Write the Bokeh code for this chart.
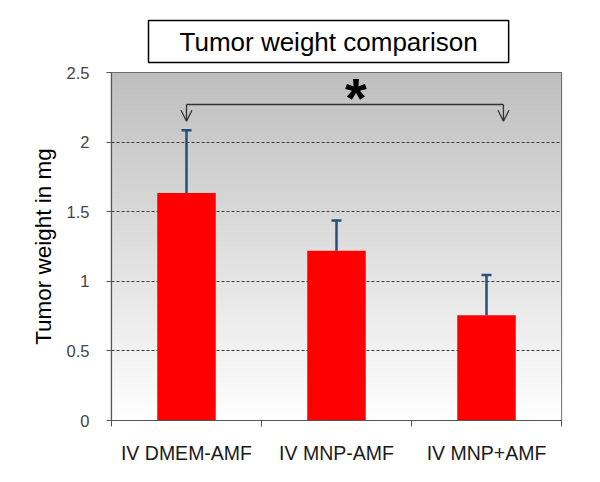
import numpy as np
from bokeh.plotting import figure
from bokeh.models import (FixedTicker, Whisker, TeeHead, Arrow, OpenHead, Label,
                          ColumnDataSource, Range1d)
from bokeh.embed import file_html
from bokeh.resources import INLINE

# ---- data ----
groups = ["IV DMEM-AMF", "IV MNP-AMF", "IV MNP+AMF"]
weights = [1.635, 1.22, 0.757]
errors = [0.451, 0.216, 0.288]
y_ticks = [0, 0.5, 1, 1.5, 2, 2.5]
y_tick_labels = ["0", "0.5", "1", "1.5", "2", "2.5"]
title_text = "Tumor weight comparison"
y_label = "Tumor weight in mg"
sig_star = "*"
sig_groups = [0, 2]          # compared groups
sig_right_shift = 0.113      # right arrow sits a bit right of its bar centre
sig_bracket_y = 2.27
sig_tip_y = 2.15
sig_star_x = 1.63
sig_star_y = 2.317

FONT = "Liberation Sans"

centers = [i + 0.5 for i in range(len(groups))]
boundaries = [float(i) for i in range(len(groups) + 1)]

p = figure(width=584, height=466, x_range=Range1d(0, len(groups)),
           y_range=Range1d(y_ticks[0], y_ticks[-1]),
           output_backend="svg", toolbar_location=None,
           min_border_left=111, min_border_right=23,
           min_border_top=72, min_border_bottom=44)
p.background_fill_color = "white"
p.border_fill_color = "white"
p.outline_line_color = "#555555"
p.outline_line_width = 1.2

# gradient background of the plot area (decoration)
N = 256
img = np.empty((N, 1), dtype=np.uint32)
view = img.view(dtype=np.uint8).reshape((N, 1, 4))
g = (255 - np.linspace(0, 1, N) * 64).astype(np.uint8)
view[:, 0, 0] = g
view[:, 0, 1] = g
view[:, 0, 2] = g
view[:, 0, 3] = 255
p.image_rgba(image=[img], x=0, y=y_ticks[0], dw=len(groups),
             dh=y_ticks[-1] - y_ticks[0], level="image")

# grid
p.xgrid.visible = False
p.ygrid.ticker = FixedTicker(ticks=y_ticks[1:-1])
p.ygrid.grid_line_color = "#3a3a3a"
p.ygrid.grid_line_dash = "3 2"
p.ygrid.grid_line_width = 1

# bars
p.vbar(x=centers, top=weights, width=0.39, fill_color="#ff0000",
       line_color=None)

# error bars (upper only)
src = ColumnDataSource(dict(x=centers, lower=weights,
                            upper=[w + e for w, e in zip(weights, errors)]))
err_col = "#24507f"
p.add_layout(Whisker(base="x", lower="lower", upper="upper", source=src,
                     line_color=err_col, line_width=2.5, lower_head=None,
                     upper_head=TeeHead(size=10, line_color=err_col, line_width=2.5),
                     level="overlay"))

# significance bracket
xl = centers[sig_groups[0]]
xr = centers[sig_groups[1]] + sig_right_shift
p.line(x=[xl, xr], y=[sig_bracket_y, sig_bracket_y], line_color="#333333",
       line_width=1.3)
for xx in (xl, xr):
    p.add_layout(Arrow(end=OpenHead(size=11, line_color="#333333", line_width=1.3),
                       x_start=xx, y_start=sig_bracket_y, x_end=xx, y_end=sig_tip_y,
                       line_color="#333333", line_width=1.3))
p.add_layout(Label(x=sig_star_x, y=sig_star_y, text=sig_star, text_font=FONT,
                   text_font_size="56px", text_font_style="bold",
                   text_align="center", text_baseline="alphabetic",
                   text_color="black"))

# axes
xa = p.xaxis[0]
xa.ticker = FixedTicker(ticks=centers, minor_ticks=boundaries)
xa.major_label_overrides = {c: g for c, g in zip(centers, groups)}
xa.major_tick_out = 0
xa.major_tick_in = 0
xa.minor_tick_out = 6
xa.minor_tick_in = 0
xa.minor_tick_line_color = "#555555"
xa.axis_line_color = "#555555"
xa.axis_line_width = 1.2
xa.major_label_standoff = 15
xa.major_label_text_font = FONT
xa.major_label_text_font_size = "19.5px"
xa.major_label_text_color = "#1a1a1a"

ya = p.yaxis[0]
ya.ticker = FixedTicker(ticks=y_ticks, minor_ticks=[])
ya.major_label_overrides = {t: l for t, l in zip(y_ticks, y_tick_labels)}
ya.major_tick_out = 5
ya.major_tick_in = 0
ya.major_tick_line_color = "#555555"
ya.axis_line_color = "#555555"
ya.axis_line_width = 1.2
ya.major_label_standoff = 17
ya.major_label_text_font = FONT
ya.major_label_text_font_size = "16.5px"
ya.major_label_text_color = "#444444"
ya.axis_label = y_label
ya.axis_label_text_font = FONT
ya.axis_label_text_font_size = "22.5px"
ya.axis_label_text_font_style = "normal"
ya.axis_label_text_color = "black"
ya.axis_label_standoff = 8

# boxed title above the plot area
p.title.text = title_text
p.title.align = "left"
p.title.offset = 37
p.title.standoff = 20
p.title.text_font = FONT
p.title.text_font_size = "26px"
p.title.text_font_style = "normal"
p.title.text_color = "black"
p.title.border_line_color = "black"
p.title.border_line_width = 1.5
p.title.background_fill_color = "white"
p.title.padding = (31, 6)

open("out.html", "w").write(file_html(p, INLINE))
